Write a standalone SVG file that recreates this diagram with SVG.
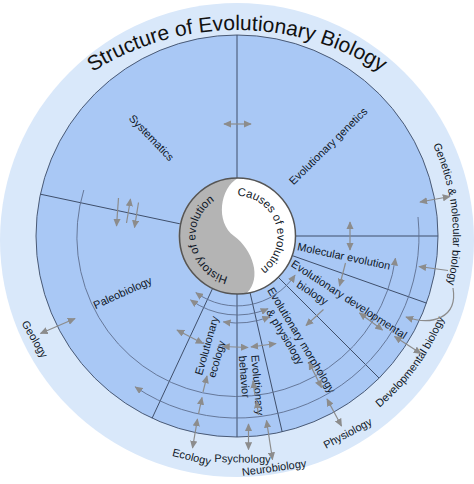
<svg xmlns="http://www.w3.org/2000/svg" width="474" height="484" viewBox="0 0 474 484">
<defs>
<style>
.lbl{font-family:"Liberation Sans",Arial,sans-serif;font-size:11px;fill:#101828}
.ttl{font-family:"Liberation Sans",Arial,sans-serif;font-size:21px;fill:#111}
.spoke{stroke:#3f4f6b;stroke-width:1;fill:none}
.arc{stroke:#5d6e8e;stroke-width:0.9;fill:none}
.ar{stroke:#8c8c8c;stroke-width:1.2;fill:none}
.d{marker-start:url(#ah);marker-end:url(#ah)}
.s{marker-end:url(#ah)}
</style>
<marker id="ah" viewBox="0 0 10 9" refX="9" refY="4.5" markerWidth="8" markerHeight="7.2" markerUnits="userSpaceOnUse" orient="auto-start-reverse"><path d="M0,0 L10,4.5 L0,9 z" fill="#8c8c8c"/></marker>
<path id="titlePath" d="M-16.7,207.7 A270,270 0 0 1 490.7,207.7"/>
<path id="gmPath" d="M402.5,97.2 A216,216 0 0 1 427.7,337.4"/>
<path id="dbPath" d="M345.1,431 A223,223 0 0 0 455.9,278.5"/>
<path id="histPath" d="M233.8,277.8 A42,42 0 0 1 219.75,197.9"/>
<path id="causePath" d="M234,196.2 A40,40 0 0 1 257.5,270.6"/>
</defs>
<rect width="474" height="484" fill="#fff"/>
<g id="outer-ring">
<circle cx="237" cy="240" r="237" fill="#d9e8fa"/>
</g>
<g id="title">
<text class="ttl"><textPath href="#titlePath" startOffset="50%" text-anchor="middle">Structure of Evolutionary Biology</textPath></text>
</g>
<g id="field">
<circle cx="237" cy="236" r="201" fill="#a9c8f5" stroke="#4a5a75" stroke-width="1"/>
<line class="spoke" x1="237" y1="178" x2="237" y2="35"/>
<line class="spoke" x1="295" y1="236" x2="438" y2="236"/>
<line class="spoke" x1="291.7" y1="255.4" x2="426.5" y2="303.1"/>
<line class="spoke" x1="278" y1="277" x2="379.1" y2="378.1"/>
<line class="spoke" x1="250" y1="292.5" x2="282.2" y2="431.9"/>
<line class="spoke" x1="237" y1="294" x2="237" y2="437"/>
<line class="spoke" x1="212.5" y1="288.6" x2="152.1" y2="418.2"/>
<line class="spoke" x1="180.3" y1="223.9" x2="40.4" y2="194.2"/>
</g>
<g id="systematics"><text class="lbl" text-anchor="middle" transform="translate(151.7,137.5) rotate(46)" y="4">Systematics</text></g>
<g id="evolutionary-genetics"><text class="lbl" text-anchor="middle" transform="translate(328,146) rotate(-44.5)" y="4">Evolutionary genetics</text></g>
<g id="molecular-evolution"><text class="lbl" text-anchor="middle" transform="translate(344,256) rotate(12)" y="4">Molecular evolution</text></g>
<g id="evo-devo"><text class="lbl" text-anchor="middle" transform="translate(349.2,299.2) rotate(33)" y="4">Evolutionary developmental<tspan x="-34.4" y="18.4">biology</tspan></text></g>
<g id="evo-morphology"><text class="lbl" text-anchor="middle" transform="translate(301.7,340) rotate(59)" y="4">Evolutionary morphology<tspan x="-11.2" y="16.2">&amp; physiology</tspan></text></g>
<g id="evo-behavior"><text class="lbl" text-anchor="middle" transform="translate(257.8,385) rotate(85)" y="4">Evolutionary<tspan x="-9.4" y="16.5">behavior</tspan></text></g>
<g id="evo-ecology"><text class="lbl" text-anchor="middle" transform="translate(206.5,345.5) rotate(-74)" y="4">Evolutionary<tspan x="-10.2" y="17.3">ecology</tspan></text></g>
<g id="paleobiology"><text class="lbl" text-anchor="middle" transform="translate(122.5,292.5) rotate(-24.4)" y="4">Paleobiology</text></g>
<g id="geology"><text class="lbl" text-anchor="middle" transform="translate(35,339) rotate(60)" y="4">Geology</text></g>
<g id="ecology"><text class="lbl" text-anchor="middle" transform="translate(191.7,456.7) rotate(14)" y="4">Ecology</text></g>
<g id="psychology"><text class="lbl" text-anchor="middle" transform="translate(242.5,458.5) rotate(1)" y="4">Psychology</text></g>
<g id="neurobiology"><text class="lbl" text-anchor="middle" transform="translate(274,467.5) rotate(-8)" y="4">Neurobiology</text></g>
<g id="physiology"><text class="lbl" text-anchor="middle" transform="translate(347.5,433) rotate(-28)" y="4">Physiology</text></g>
<g id="genetics-molecular-biology"><text class="lbl"><textPath href="#gmPath" startOffset="50%" text-anchor="middle">Genetics &amp; molecular biology</textPath></text></g>
<g id="developmental-biology"><text class="lbl"><textPath href="#dbPath" startOffset="50%" text-anchor="middle">Developmental biology</textPath></text></g>
<g id="core">
<circle cx="237.5" cy="236" r="58" fill="#fff"/>
<path d="M238,178 C220,188 215,222 234,236 C253,250 262,278 247,293 A58,58 0 1 1 238,178 Z" fill="#b4b4b4"/>
<circle cx="237.5" cy="236" r="58" fill="none" stroke="#555" stroke-width="1.5"/>
<text class="lbl" style="font-size:11.5px"><textPath href="#histPath" startOffset="50%" text-anchor="middle">History of evolution</textPath></text>
<text class="lbl" style="font-size:11.5px"><textPath href="#causePath" startOffset="50%" text-anchor="middle">Causes of evolution</textPath></text>
</g>
<g id="connectors">
<path class="arc s" d="M83.8,190 A160,160 0 1 0 395.4,258.3"/>
<path class="arc s" d="M418,217 A182,182 0 0 1 135.2,386.9"/>
<path class="arc d" d="M295,275.1 A70,70 0 0 1 195.9,292.6"/>
<path class="arc d" d="M267.9,308.7 A79,79 0 0 1 190.6,299.9"/>
<path class="arc d" d="M269.6,316.7 A87,87 0 0 1 223.4,321.9"/>
<path class="ar d" d="M224,124 H251"/>
<path class="ar d" d="M350,222 V250"/>
<path class="ar d" d="M420,202 L450,196.5"/>
<path class="ar s" d="M448,270.5 L419,266.5"/>
<path class="ar s" d="M453,288 C458,318 432,326 406,317"/>
<path class="ar s" d="M345.5,263 L339.5,286"/>
<path class="ar d" d="M359.5,313 L382.5,330"/>
<path class="ar d" d="M394.5,336.5 L421,353.5"/>
<path class="ar s" d="M323.5,309.5 L306,325.5"/>
<path class="ar d" d="M309,362.5 L321.5,387.5"/>
<path class="ar d" d="M327,399 L341.5,426"/>
<path class="ar d" d="M251,347 L276,343.5"/>
<path class="ar d" d="M222.5,346.5 L248,347.5"/>
<path class="ar d" d="M177,330 L203,343.5"/>
<path class="ar s" d="M203,392 L207,376"/>
<path class="ar s" d="M198.5,414 L202,397.5"/>
<path class="ar d" d="M197.5,419 L192.5,448"/>
<path class="ar s" d="M255,395 L253,381"/>
<path class="ar s" d="M258.5,415 L256.5,401"/>
<path class="ar d" d="M248.5,424 V449.5"/>
<path class="ar d" d="M266.5,420.5 L272.5,459.5"/>
<path class="ar d" d="M40.5,333.5 L75,318.5"/>
<path class="ar s" d="M118.5,198 L116.5,226"/>
<path class="ar s" d="M126.5,223 L130.5,199"/>
<path class="ar s" d="M138.5,202.5 L134.5,227.5"/>
</g>
</svg>
